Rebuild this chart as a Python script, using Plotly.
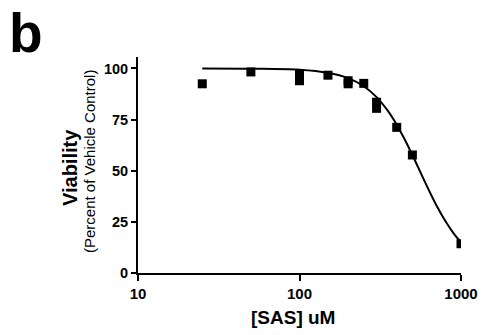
import plotly.graph_objects as go

# measured points (SAS concentration in uM, viability %)
conc = [25, 50, 100, 100, 150, 200, 200, 250, 300, 300, 400, 500, 1000]
viability = [92.5, 98.3, 97.5, 94.0, 96.7, 94.0, 92.5, 92.7, 83.5, 80.5, 71.2, 57.7, 14.3]

# fitted curve
curve_x = [25, 50, 100, 150, 200, 250, 300, 350, 400, 450, 500, 600, 700, 800, 900, 1000]
curve_y = [100, 99.9, 99.4, 97.9, 95.3, 91.3, 86.0, 79.6, 72.5, 65.0, 57.7, 44.3, 33.5, 25.4, 19.4, 15.0]

x_ticks = [10, 100, 1000]
y_ticks = [0, 25, 50, 75, 100]

FONT = "Liberation Sans, Arial, sans-serif"

fig = go.Figure()
fig.add_trace(go.Scatter(x=curve_x, y=curve_y, mode="lines", line=dict(color="black", width=2, shape="spline"),
                         showlegend=False, hoverinfo="skip"))
fig.add_trace(go.Scatter(x=conc, y=viability, mode="markers",
                         marker=dict(symbol="square", size=9, color="black"), showlegend=False))

W, H = 482, 335
PL, PR, PT, PB = 138, 461, 57, 273  # plot box in page pixels
L, R, T, B = PL, W - PR, PT, H - PB
pw, ph = PR - PL, PB - PT

def px(x):
    return (x - PL) / pw

def py(y):
    return (PB - y) / ph

fig.update_layout(
    width=W, height=H,
    margin=dict(l=L, r=R, t=T, b=B, autoexpand=False),
    paper_bgcolor="white", plot_bgcolor="white",
    font=dict(family=FONT, color="black"),
    xaxis=dict(type="log", range=[1, 3], tickvals=x_ticks, ticktext=[f"<b>{v}</b>" for v in x_ticks],
               showgrid=False, zeroline=False, showline=True, linecolor="black", linewidth=2,
               ticks="outside", ticklen=6, tickwidth=2, tickcolor="black",
               tickfont=dict(size=15, family=FONT, color="black")),
    yaxis=dict(range=[0, 105.6], tickvals=y_ticks, ticktext=[f"<b>{v}</b>" for v in y_ticks],
               showgrid=False, zeroline=False, showline=True, linecolor="black", linewidth=2,
               ticks="outside", ticklen=5, tickwidth=2, tickcolor="black",
               tickfont=dict(size=14.5, family=FONT, color="black")),
    annotations=[
        dict(text="<b>[SAS] uM</b>", xref="paper", yref="paper", x=px(293), y=py(317),
             showarrow=False, font=dict(size=19, family=FONT), xanchor="center", yanchor="middle"),
        dict(text="<b>Viability</b>", xref="paper", yref="paper", x=px(70), y=py(168),
             showarrow=False, textangle=-90, font=dict(size=20, family=FONT), xanchor="center", yanchor="middle"),
        dict(text="(Percent of Vehicle Control)", xref="paper", yref="paper", x=px(89), y=py(162),
             showarrow=False, textangle=-90, font=dict(size=15, family=FONT), xanchor="center", yanchor="middle"),
        dict(text="<b>b</b>", xref="paper", yref="paper", x=px(26), y=py(0),
             showarrow=False, font=dict(size=55, family=FONT), xanchor="center", yanchor="top"),
    ],
)

fig.write_html("out.html", config={"displayModeBar": False},
               post_script="document.body.style.margin='0';")
